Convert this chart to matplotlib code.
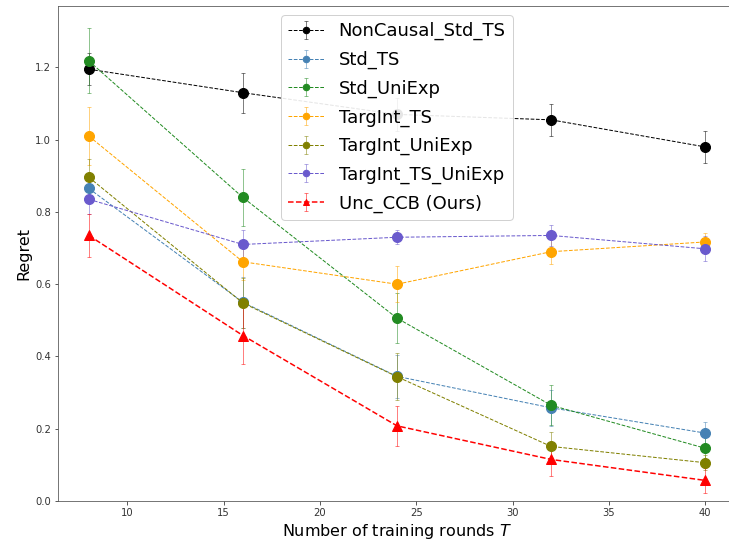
import matplotlib
matplotlib.use("Agg")
import matplotlib.pyplot as plt

# training rounds
T = [8, 16, 24, 32, 40]

labels = ["NonCausal_Std_TS", "Std_TS", "Std_UniExp", "TargInt_TS",
          "TargInt_UniExp", "TargInt_TS_UniExp", "Unc_CCB (Ours)"]
colors = ["black", "steelblue", "forestgreen", "orange",
          "olive", "slateblue", "red"]

# mean regret per method
noncausal_std_ts = [1.195, 1.13, 1.07, 1.055, 0.98]
std_ts = [0.865, 0.55, 0.345, 0.258, 0.188]
std_uniexp = [1.218, 0.84, 0.506, 0.265, 0.146]
targint_ts = [1.01, 0.662, 0.6, 0.69, 0.717]
targint_uniexp = [0.896, 0.548, 0.344, 0.151, 0.106]
targint_ts_uniexp = [0.835, 0.71, 0.73, 0.735, 0.698]
unc_ccb = [0.735, 0.458, 0.208, 0.115, 0.057]

# standard error per method
noncausal_std_ts_err = [0.045, 0.055, 0.045, 0.045, 0.045]
std_ts_err = [0.04, 0.07, 0.06, 0.05, 0.03]
std_uniexp_err = [0.09, 0.08, 0.07, 0.055, 0.03]
targint_ts_err = [0.08, 0.05, 0.05, 0.035, 0.025]
targint_uniexp_err = [0.05, 0.07, 0.065, 0.04, 0.02]
targint_ts_uniexp_err = [0.04, 0.04, 0.02, 0.03, 0.035]
unc_ccb_err = [0.06, 0.08, 0.055, 0.045, 0.035]

means = [noncausal_std_ts, std_ts, std_uniexp, targint_ts,
         targint_uniexp, targint_ts_uniexp, unc_ccb]
errs = [noncausal_std_ts_err, std_ts_err, std_uniexp_err, targint_ts_err,
        targint_uniexp_err, targint_ts_uniexp_err, unc_ccb_err]

fig = plt.figure(figsize=(729 / 72, 542 / 72), dpi=72)
ax = fig.add_axes([58 / 729, 41 / 542, 678 / 729, 495 / 542])

for i in range(len(labels)):
    ours = labels[i].startswith("Unc_CCB")
    c = ax.errorbar(T, means[i], yerr=errs[i], color=colors[i],
                    linestyle="--", linewidth=1.5 if ours else 1.0,
                    marker="^" if ours else "o", markersize=10,
                    capsize=2, elinewidth=1, label=labels[i])
    for part in c[1] + c[2]:
        part.set_alpha(0.5)

ax.set_xlim(6.4, 41.6)
ax.set_ylim(0, 1.37)
ax.set_xticks([10, 15, 20, 25, 30, 35, 40])
ax.set_yticks([0.0, 0.2, 0.4, 0.6, 0.8, 1.0, 1.2])
ax.tick_params(labelsize=10, colors="#333333", length=3.5)
for s in ax.spines.values():
    s.set_color("#555555")
# plot is cut at the right edge
ax.spines["right"].set_visible(False)
ax.set_xlabel("Number of training rounds $T$", fontsize=16)
ax.set_ylabel("Regret", fontsize=16)
ax.legend(loc="upper center", fontsize=18, markerscale=0.65,
          labelspacing=0.58, framealpha=0.9)

plt.savefig("out.png", dpi=72)
